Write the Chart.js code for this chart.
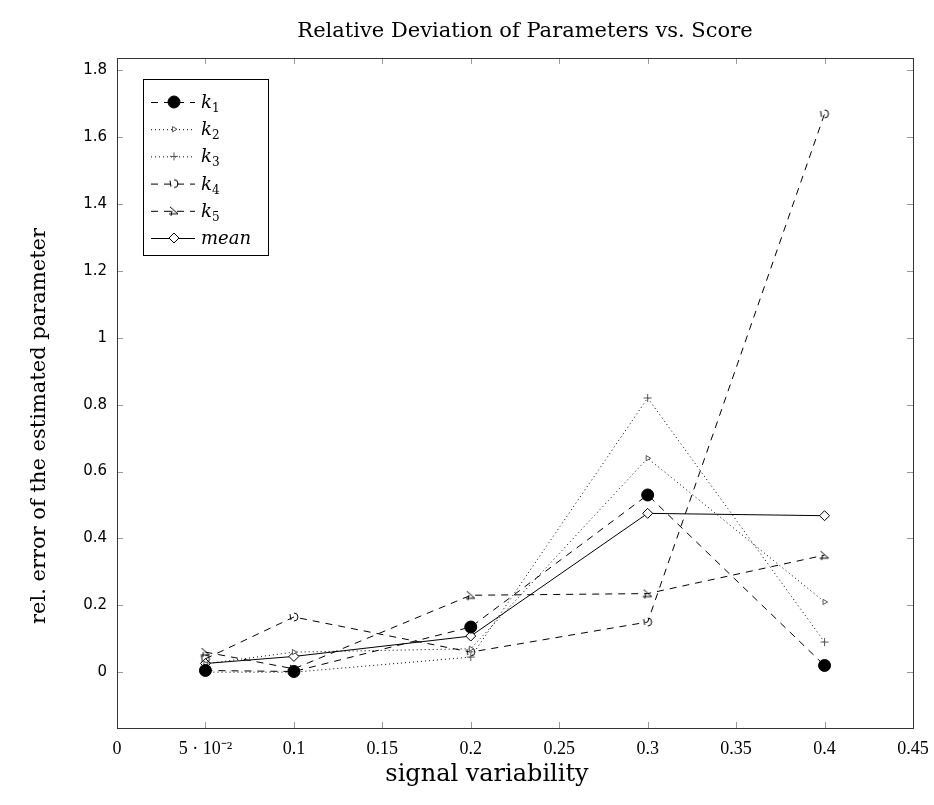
<!DOCTYPE html>
<html>
<head>
<meta charset="utf-8">
<script src="https://cdn.jsdelivr.net/npm/chart.js@4/dist/chart.umd.min.js"></script>
<style>
  html, body { margin: 0; padding: 0; background: #fff; }
  #wrap { width: 934px; height: 805px; }
</style>
</head>
<body>
<div id="wrap"><canvas id="devChart" width="934" height="805"></canvas></div>
<script>
// signal variability on x, relative error per parameter on y
const xValues = [0.05, 0.1, 0.2, 0.3, 0.4];
const k1 = [0.005, 0.002, 0.135, 0.53, 0.02];
const k2 = [0.025, 0.06, 0.07, 0.64, 0.21];
const k3 = [0.0, 0.0, 0.045, 0.82, 0.09];
const k4 = [0.04, 0.165, 0.06, 0.15, 1.67];
const k5 = [0.06, 0.01, 0.23, 0.235, 0.35];
const meanErr = [0.026, 0.047, 0.108, 0.475, 0.468];

const xTicks = [0, 0.05, 0.1, 0.15, 0.2, 0.25, 0.3, 0.35, 0.4, 0.45];
const yTicks = [0, 0.2, 0.4, 0.6, 0.8, 1, 1.2, 1.4, 1.6, 1.8];

const chartTitle = 'Relative Deviation of Parameters vs. Score';
const xTitle = 'signal variability';
const yTitle = 'rel. error of the estimated parameter';

// small hand drawn markers for k4 / k5
function makeMarker(draw) {
    const c = document.createElement('canvas');
    c.width = 12; c.height = 12;
    const g = c.getContext('2d');
    g.strokeStyle = '#000';
    g.lineWidth = 1;
    draw(g);
    return c;
}
const k4Marker = makeMarker(g => {
    g.beginPath();
    g.arc(6, 6, 4, -Math.PI / 2, Math.PI / 2);
    g.stroke();
    g.beginPath();
    g.moveTo(2, 3); g.lineTo(3, 9);
    g.stroke();
});
const k5Marker = makeMarker(g => {
    g.beginPath();
    g.moveTo(1, 9); g.lineTo(10, 9);
    g.moveTo(2, 2); g.lineTo(10, 9);
    g.moveTo(4, 6); g.lineTo(3, 11);
    g.stroke();
});

const pts = ys => xValues.map((x, i) => ({ x: x, y: ys[i] }));

const datasets = [
    { label: '1', data: pts(k1), borderDash: [7, 6], pointStyle: 'circle', pointRadius: 6,
      pointBackgroundColor: '#000', pointBorderColor: '#000', italic: 'k' },
    { label: '2', data: pts(k2), borderDash: [1, 3], pointStyle: 'triangle', pointRadius: 3, pointRotation: 90,
      pointBackgroundColor: '#fff', pointBorderColor: '#555', italic: 'k' },
    { label: '3', data: pts(k3), borderDash: [1, 3], pointStyle: 'cross', pointRadius: 4,
      pointBackgroundColor: '#fff', pointBorderColor: '#555', italic: 'k' },
    { label: '4', data: pts(k4), borderDash: [7, 6], pointStyle: k4Marker,
      pointBackgroundColor: '#fff', pointBorderColor: '#000', italic: 'k' },
    { label: '5', data: pts(k5), borderDash: [7, 6], pointStyle: k5Marker,
      pointBackgroundColor: '#fff', pointBorderColor: '#000', italic: 'k' },
    { label: '', data: pts(meanErr), borderDash: [], pointStyle: 'rectRot', pointRadius: 5,
      pointBackgroundColor: '#fff', pointBorderColor: '#000', italic: 'mean' }
].map(ds => Object.assign({
    borderColor: '#000',
    borderWidth: 1,
    pointBorderWidth: 1,
    tension: 0,
    fill: false
}, ds));

// frame + inward ticks on all four sides
const frame = {
    id: 'frame',
    afterDraw(chart) {
        const { ctx, chartArea: a, scales } = chart;
        ctx.save();
        ctx.strokeStyle = '#999';
        ctx.lineWidth = 1;
        ctx.beginPath();
        xTicks.forEach(v => {
            const x = Math.round(scales.x.getPixelForValue(v)) + 0.5;
            if (v === 0 || v === 0.45) return;
            ctx.moveTo(x, a.bottom); ctx.lineTo(x, a.bottom - 6);
            ctx.moveTo(x, a.top); ctx.lineTo(x, a.top + 6);
        });
        yTicks.forEach(v => {
            const y = Math.round(scales.y.getPixelForValue(v)) + 0.5;
            ctx.moveTo(a.left, y); ctx.lineTo(a.left + 6, y);
            ctx.moveTo(a.right, y); ctx.lineTo(a.right - 6, y);
        });
        ctx.stroke();
        ctx.strokeStyle = '#333';
        ctx.strokeRect(Math.round(a.left) + 0.5, Math.round(a.top) + 0.5,
            Math.round(a.right - a.left), Math.round(a.bottom - a.top));
        ctx.restore();
    }
};

// chart title and the two axis titles
const titles = {
    id: 'titles',
    afterDraw(chart) {
        const { ctx } = chart;
        ctx.save();
        ctx.fillStyle = '#000';
        ctx.textAlign = 'center';
        ctx.textBaseline = 'middle';
        ctx.font = '21px "DejaVu Serif"';
        ctx.fillText(chartTitle, 525, 32);
        ctx.font = '24px "DejaVu Serif"';
        ctx.fillText(xTitle, 487, 775);
        ctx.translate(40, 426);
        ctx.rotate(-Math.PI / 2);
        ctx.font = '21px "DejaVu Serif"';
        ctx.fillText(yTitle, 0, 0);
        ctx.restore();
    }
};

// legend box in the upper left corner of the plot
const legendBox = {
    id: 'legendBox',
    afterDraw(chart) {
        const { ctx, chartArea: a } = chart;
        const bx = a.left + 26, by = a.top + 21, bw = 125, bh = 176;
        ctx.save();
        ctx.fillStyle = '#fff';
        ctx.fillRect(bx, by, bw, bh);
        ctx.strokeStyle = '#000';
        ctx.lineWidth = 1;
        ctx.strokeRect(bx + 0.5, by + 0.5, bw, bh);
        chart.data.datasets.forEach((ds, i) => {
            const y = by + 23 + i * 27.2;
            ctx.strokeStyle = '#000';
            ctx.setLineDash(ds.borderDash);
            ctx.beginPath();
            ctx.moveTo(bx + 8, y + 0.5);
            ctx.lineTo(bx + 52, y + 0.5);
            ctx.stroke();
            ctx.setLineDash([]);
            ctx.fillStyle = ds.pointBackgroundColor;
            ctx.strokeStyle = ds.pointBorderColor;
            Chart.helpers.drawPoint(ctx, {
                pointStyle: ds.pointStyle,
                radius: ds.pointRadius === undefined ? 3 : ds.pointRadius,
                rotation: ds.pointRotation || 0,
                borderWidth: 1
            }, bx + 31, y);
            ctx.fillStyle = '#000';
            ctx.textBaseline = 'alphabetic';
            ctx.font = 'italic 18px "DejaVu Serif"';
            ctx.fillText(ds.italic, bx + 58, y + 6);
            if (ds.label) {
                const w = ctx.measureText(ds.italic).width;
                ctx.font = '12px "DejaVu Serif"';
                ctx.fillText(ds.label, bx + 58 + w, y + 10);
            }
        });
        ctx.restore();
    }
};

new Chart(document.getElementById('devChart'), {
    type: 'line',
    data: { datasets },
    options: {
        responsive: false,
        animation: false,
        layout: { padding: { left: 0, right: 21, top: 58, bottom: 0 } },
        plugins: {
            legend: { display: false },
            tooltip: { enabled: false },
            title: { display: false }
        },
        scales: {
            x: {
                type: 'linear',
                min: 0,
                max: 0.45,
                grid: { display: false, drawTicks: false },
                border: { display: false },
                afterBuildTicks: s => { s.ticks = xTicks.map(v => ({ value: v })); },
                afterFit: s => { s.height = 77; s.paddingRight = 0; },
                ticks: {
                    padding: 10,
                    color: '#000',
                    maxRotation: 0,
                    font: { family: '"Liberation Serif"', size: 18 },
                    callback: v => (v === 0.05 ? '5 · 10⁻²' : String(v))
                }
            },
            y: {
                min: -0.167,
                max: 1.837,
                grid: { display: false, drawTicks: false },
                border: { display: false },
                afterBuildTicks: s => { s.ticks = yTicks.map(v => ({ value: v })); },
                afterFit: s => { s.width = 117; },
                ticks: {
                    padding: 10,
                    color: '#000',
                    font: { family: '"DejaVu Sans"', size: 15 },
                    callback: v => String(v)
                }
            }
        }
    },
    plugins: [frame, titles, legendBox]
});
</script>
</body>
</html>
